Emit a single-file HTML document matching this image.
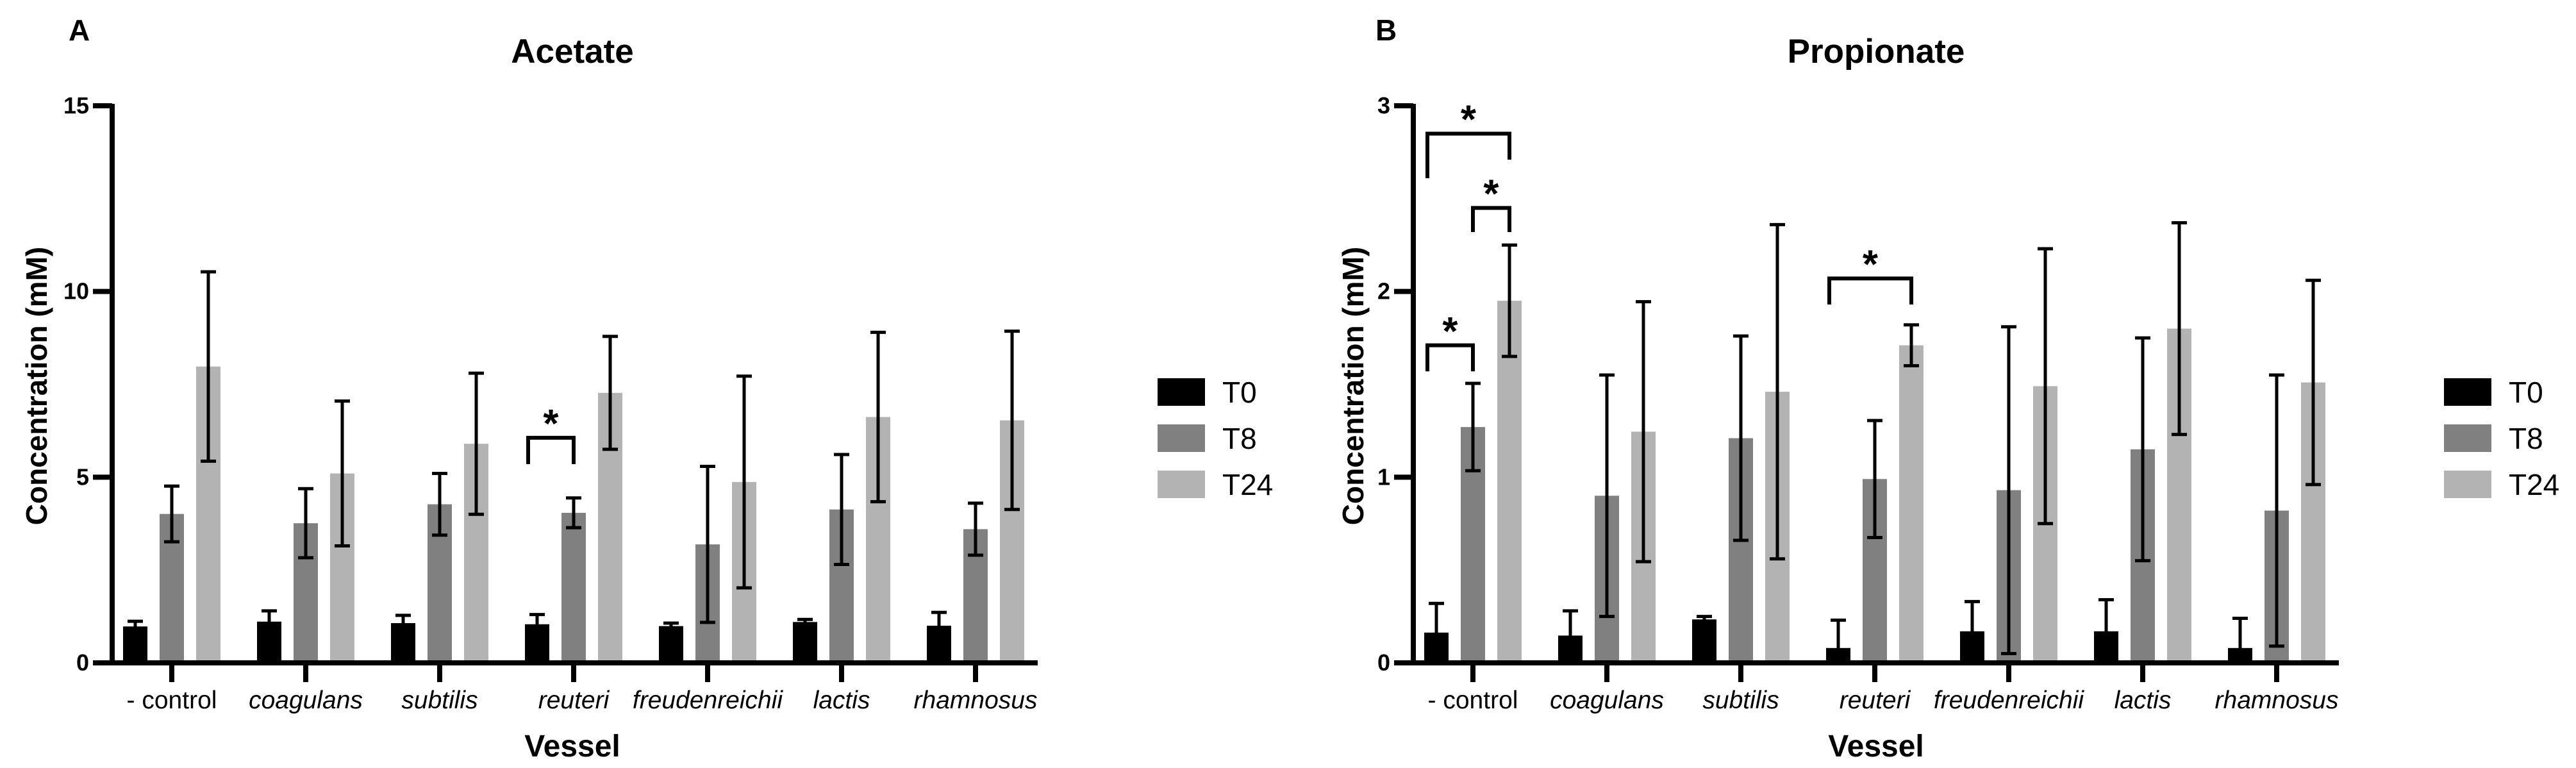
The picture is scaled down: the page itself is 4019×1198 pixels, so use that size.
<!DOCTYPE html>
<html><head><meta charset="utf-8"><style>
html,body{margin:0;padding:0;background:#fff;}
svg{display:block;font-family:"Liberation Sans",Arial,sans-serif;}
</style></head><body>
<svg id="fig" width="4019" height="1198" viewBox="0 0 4019 1198" xmlns="http://www.w3.org/2000/svg"></svg>
<script>
const categories = ["- control","coagulans","subtilis","reuteri","freudenreichii","lactis","rhamnosus"];
const italicCats = [false,true,true,true,true,true,true];
const seriesNames = ["T0","T8","T24"];
const acetateT0 = [0.98,1.11,1.07,1.04,0.99,1.10,1.00];
const acetateT0sd = [0.14,0.29,0.21,0.26,0.08,0.07,0.36];
const acetateT8 = [4.01,3.76,4.27,4.04,3.19,4.13,3.60];
const acetateT8sd = [0.75,0.93,0.83,0.40,2.10,1.48,0.70];
const acetateT24 = [7.98,5.10,5.90,7.27,4.87,6.62,6.53];
const acetateT24sd = [2.55,1.95,1.90,1.52,2.85,2.28,2.40];
const acetateTicks = [0,5,10,15];
const propT0 = [0.163,0.147,0.234,0.08,0.17,0.17,0.08];
const propT0sd = [0.157,0.133,0.016,0.15,0.16,0.17,0.16];
const propT8 = [1.27,0.90,1.21,0.99,0.93,1.15,0.82];
const propT8sd = [0.235,0.65,0.55,0.315,0.88,0.60,0.73];
const propT24 = [1.95,1.245,1.46,1.71,1.49,1.80,1.51];
const propT24sd = [0.30,0.70,0.90,0.11,0.74,0.57,0.55];
const propTicks = [0,1,2,3];
// significance brackets: [category, fromSeries, toSeries, barY, leftLegEnd, rightLegEnd, starY]
const acetateSig = [[3,0,1,6.06,5.35,5.35,6.66]];
const propSig = [[0,0,2,2.85,2.61,2.71,2.97],[0,1,2,2.45,2.32,2.32,2.57],[0,0,1,1.71,1.57,1.57,1.83],[3,0,2,2.07,1.93,1.93,2.19]];

const NS="http://www.w3.org/2000/svg";
const svg=document.getElementById('fig');
const colors=["#000000","#808080","#b3b3b3"];
function mk(tag,attrs,parent){const e=document.createElementNS(NS,tag);for(const k in attrs)e.setAttribute(k,attrs[k]);(parent||svg).appendChild(e);return e;}

function chart(o){
  const g=mk('g',{});
  
  
  const y0=1034,yTop=165,ax=o.ax;
  const ymax=o.ticks[o.ticks.length-1];
  const y=v=>y0-(v/ymax)*(y0-yTop);
  const cx=i=>ax+93+i*209;
  const off=[-57,0,57];
  // bars
  const means=[o.t0,o.t8,o.t24], sds=[o.t0sd,o.t8sd,o.t24sd];
  for(let s=0;s<3;s++){
    for(let i=0;i<categories.length;i++){
      const xc=cx(i)+off[s];
      const r=mk('rect',{x:xc-19,y:y(means[s][i]),width:38,height:y0-y(means[s][i]),fill:colors[s]},g);
      
      
    }
  }
  for(let s=0;s<3;s++){
    for(let i=0;i<categories.length;i++){
      const xc=cx(i)+off[s];
      const hi=y(means[s][i]+sds[s][i]), lo=y(Math.max(0,means[s][i]-sds[s][i]));
      const eb=mk('path',{d:`M${xc},${lo}V${hi}M${xc-12},${hi}H${xc+12}M${xc-12},${lo}H${xc+12}`,stroke:'#000','stroke-width':5,fill:'none'},g);
      
      
    }
  }
  // axes
  const yaxis=mk('path',{d:`M${ax},${yTop-3}V${y0}`,stroke:'#000','stroke-width':8,fill:'none'},g);
  
  
  const xaxis=mk('path',{d:`M${ax-30},${y0}H${ax+1444}`,stroke:'#000','stroke-width':8,fill:'none'},g);
  
  
  o.ticks.forEach(t=>{
    mk('path',{d:`M${ax-30},${y(t)}H${ax}`,stroke:'#000','stroke-width':8},g);
    const tl=mk('text',{x:ax-36,y:y(t)+12,'font-size':36,'font-weight':'bold','text-anchor':'end'},g);
    tl.textContent=t;
    
    
  });
  categories.forEach((c,i)=>{
    mk('path',{d:`M${cx(i)},${y0}V${y0+30}`,stroke:'#000','stroke-width':8},g);
    const tl=mk('text',{x:cx(i),y:1105,'font-size':39,'text-anchor':'middle','font-style':italicCats[i]?'italic':'normal'},g);
    tl.textContent=c;
    
    
  });
  // significance
  o.sig.forEach(sg=>{
    const xl=cx(sg[0])+off[sg[1]]-(sg[1]===0?14:0), xr=cx(sg[0])+off[sg[2]];
    const b=mk('path',{d:`M${xl},${y(sg[4])}V${y(sg[3])}H${xr}V${y(sg[5])}`,stroke:'#000','stroke-width':6,fill:'none'},g);
    
    
    const st=mk('text',{x:(xl+xr)/2,y:y(sg[6])+34,'font-size':62,'font-weight':'bold','text-anchor':'middle'},g);
    st.textContent='*';
    
    
  });
  // titles
  const tt=mk('text',{x:o.titleX,y:98,'font-size':53,'font-weight':'bold','text-anchor':'middle'},g);
  tt.textContent=o.title;
  
  
  const pl=mk('text',{x:o.letterX,y:63,'font-size':46,'font-weight':'bold'},g);
  pl.textContent=o.letter;
  
  
  const yt=mk('text',{x:0,y:0,'font-size':46,'font-weight':'bold','text-anchor':'middle',transform:`translate(${o.ytX},602) rotate(-90)`},g);
  yt.textContent='Concentration (mM)';
  
  
  const xt=mk('text',{x:o.titleX,y:1180,'font-size':48,'font-weight':'bold','text-anchor':'middle'},g);
  xt.textContent='Vessel';
  
  
  // legend
  const lg=mk('g',{},g);
  
  
  seriesNames.forEach((n,s)=>{
    const yy=590+s*72;
    const sw=mk('rect',{x:o.legX,y:yy,width:74,height:43,fill:colors[s]},lg);
    
    
    const lt=mk('text',{x:o.legX+101,y:yy+38,'font-size':46},lg);
    lt.textContent=n;
    
    
  });
}
chart({name:'acetate-chart',ax:175,ticks:acetateTicks,t0:acetateT0,t0sd:acetateT0sd,t8:acetateT8,t8sd:acetateT8sd,t24:acetateT24,t24sd:acetateT24sd,sig:acetateSig,title:'Acetate',titleX:893,letter:'A',letterX:107,ytX:73,legX:1806});
chart({name:'propionate-chart',ax:2205,ticks:propTicks,t0:propT0,t0sd:propT0sd,t8:propT8,t8sd:propT8sd,t24:propT24,t24sd:propT24sd,sig:propSig,title:'Propionate',titleX:2927,letter:'B',letterX:2146,ytX:2127,legX:3813});
</script>
</body></html>
